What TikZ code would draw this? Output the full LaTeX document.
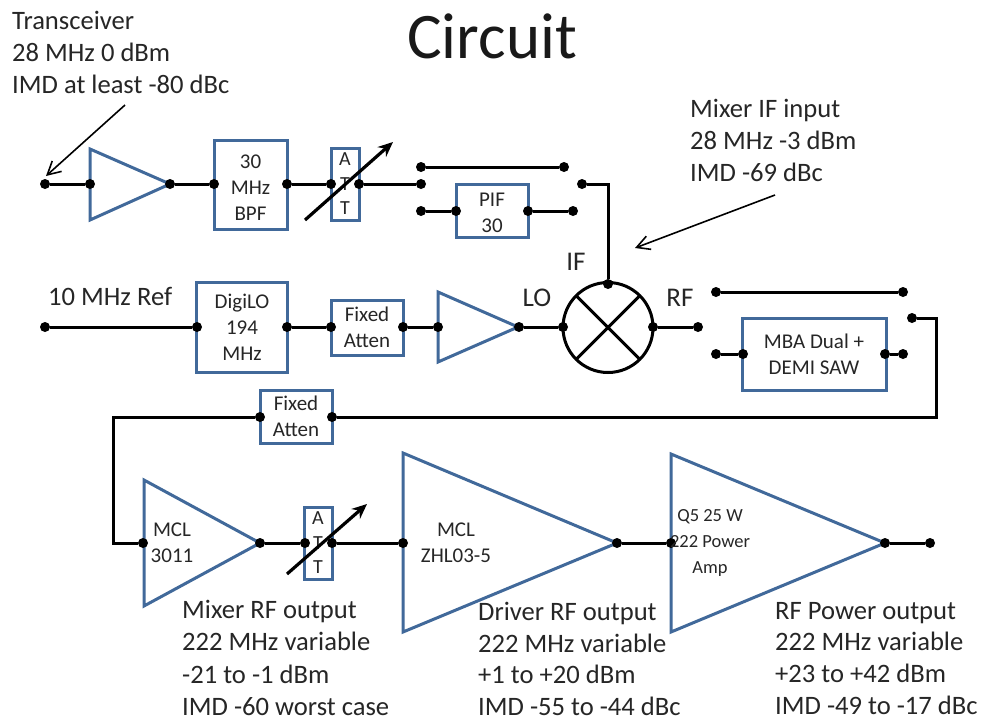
\documentclass[tikz,border=0pt]{standalone}
\usepackage{fontspec}
\setmainfont{Carlito}
\usetikzlibrary{arrows.meta}
\definecolor{blockblue}{HTML}{41699A}
\tikzset{
  x=1pt,y=-1pt,
  wire/.style={line width=3pt,black,line join=miter},
  shell/.style={line width=3pt,draw=blockblue},
  blk/.style={draw=blockblue,line width=3pt,fill=white,inner sep=0pt,outer sep=0pt,align=center,text=black!85,font=\fontsize{21}{26}\selectfont},
  dot/.style={circle,fill=black,inner sep=0pt,outer sep=0pt,minimum size=10pt},
  note/.style={anchor=north west,inner sep=0pt,align=left,text=black!85,font=\fontsize{26.6}{32}\selectfont},
  portlabel/.style={inner sep=0pt,text=black!85,font=\fontsize{27}{30}\selectfont},
  amptext/.style={inner sep=0pt,align=center,text=black!85,font=\fontsize{21}{26}\selectfont},
  tune/.style={line width=3.2pt,black,-{Stealth[length=15pt,width=13pt,inset=5pt]}},
  pointer/.style={line width=1.6pt,black,-{Straight Barb[length=13pt,width=14pt]}},
}
\begin{document}
\begin{tikzpicture}
\useasboundingbox (0,0) rectangle (982,721);

% shapes
\node[blk,minimum width=73pt,minimum height=89pt] (bpf) at (250.5,184.5) {\rule{0pt}{20pt}30\\MHz\\BPF};
\node[blk,minimum width=28pt,minimum height=72pt,font=\fontsize{20}{24.5}\selectfont] (att1) at (345,184) {A\\T\\T};
\node[blk,minimum width=72pt,minimum height=53pt] (pif) at (492,211) {\rule{0pt}{18pt}PIF\\30};
\node[blk,minimum width=91pt,minimum height=90pt] (digilo) at (242,327) {DigiLO\\194\\MHz};
\node[blk,minimum width=72pt,minimum height=55pt] (fa1) at (367,327.5) {Fixed\\Atten};
\node[blk,minimum width=144pt,minimum height=72pt] (mba) at (814,354) {MBA Dual +\\DEMI SAW};
\node[blk,minimum width=72pt,minimum height=53pt] (fa2) at (296,416.5) {Fixed\\Atten};
\node[blk,minimum width=28pt,minimum height=72pt,font=\fontsize{20}{24.5}\selectfont] (att2) at (318,543) {A\\T\\T};
\draw[shell,line join=miter] (90,149) -- (170,184) -- (90,220) -- cycle;
\draw[shell,line join=miter] (438,292) -- (518,327) -- (438,362) -- cycle;
\draw[shell,line join=miter] (144,480) -- (260,543) -- (144,606) -- cycle;
\draw[shell,line join=miter] (403,453) -- (617,543) -- (403,632) -- cycle;
\draw[shell,line join=miter] (671,454) -- (885,543) -- (671,632) -- cycle;

% mixer
\node[circle,draw=black,line width=3pt,minimum size=90pt,inner sep=0pt,outer sep=0pt] (mixer) at (608,327.5) {};
\draw[line width=3pt] (mixer.45) -- (mixer.225) (mixer.135) -- (mixer.-45);

% terminals
\foreach \n/\x/\y in {
  in/45/184, a1i/90/184, a1o/170/184, bi/214/184, bo/287/184, t1i/331/184, t1o/359/184,
  s1a/421/184, s1t/421/167, s1u/564/167, s1l/421/211, pi/456/211, po/528/211, s1r/573/211, s1o/582/184,
  mt/608/284, ref/45/327, di/197/327, do/287/327, f1i/331/327, f1o/403/327, a2i/438/327, a2o/519/327,
  ml/563/327, mr/653/327, rfo/698/327, s2t/716/292, s2u/903/292, s2l/716/354, mi/743/354, mo/885/354,
  s2r/903/354, s2o/912/318, f2o/332/417, f2i/260/417, a3i/143/543, a3o/260/543, t2i/305/543, t2o/332/543,
  a4i/403/543, a4o/617/543, a5i/671/543, a5o/885/543, out/930/543}
  {\node[dot] (\n) at (\x,\y) {};}
\coordinate (c1) at (608,184);
\coordinate (c2) at (936,318);
\coordinate (c3) at (936,417);
\coordinate (c4) at (113,417);
\coordinate (c5) at (113,543);

% connectors
\draw[wire] (in) -- (a1i) (a1o) -- (bi) (bo) -- (t1i) (t1o) -- (s1a);
\draw[wire] (s1t) -- (s1u) (s1l) -- (pi) (po) -- (s1r);
\draw[wire] (s1o) -- (c1) -- (mt);
\draw[wire] (ref) -- (di) (do) -- (f1i) (f1o) -- (a2i) (a2o) -- (ml) (mr) -- (rfo);
\draw[wire] (s2t) -- (s2u) (s2l) -- (mi) (mo) -- (s2r);
\draw[wire] (s2o) -- (c2) -- (c3) -- (f2o);
\draw[wire] (f2i) -- (c4) -- (c5) -- (a3i);
\draw[wire] (a3o) -- (t2i) (t2o) -- (a4i) (a4o) -- (a5i) (a5o) -- (out);

% variable attenuator arrows
\coordinate (v1a) at (305,220); \coordinate (v1b) at (393,142);
\coordinate (v2a) at (287,574); \coordinate (v2b) at (367,504);
\draw[tune] (v1a) -- (v1b);
\draw[tune] (v2a) -- (v2b);

% note pointers
\coordinate (p1a) at (125,105); \coordinate (p1b) at (46,176);
\coordinate (p2a) at (775,195); \coordinate (p2b) at (635,248);
\draw[pointer] (p1a) -- (p1b);
\draw[pointer] (p2a) -- (p2b);

% amplifier labels
\node[amptext] (a3t) at (172,543) {MCL\\3011};
\node[amptext] (a4t) at (456,543) {MCL\\ZHL03-5};
\node[amptext,font=\fontsize{18.5}{26}\selectfont] (a5t) at (710,543) {Q5 25 W\\222 Power\\Amp};

% text
\node[inner sep=0pt,text=black!90,font=\fontsize{65}{70}\selectfont] (title) at (492,36) {Circuit};
\node[note] (n1) at (12,11) {Transceiver\\28 MHz 0 dBm\\IMD at least -80 dBc};
\node[note] (n2) at (690,99) {Mixer IF input\\28 MHz -3 dBm\\IMD -69 dBc};
\node[note,anchor=west] (n3) at (48,296) {10 MHz Ref};
\node[portlabel] (lif) at (576,262) {IF};
\node[portlabel] (llo) at (537,298) {LO};
\node[portlabel] (lrf) at (680,298) {RF};
\node[note,font=\fontsize{26.6}{32.4}\selectfont] (n4) at (182,600) {Mixer RF output\\222 MHz variable\\-21 to -1 dBm\\IMD -60 worst case};
\node[note,font=\fontsize{26.6}{31.7}\selectfont] (n5) at (478,602) {Driver RF output\\222 MHz variable\\+1 to +20 dBm\\IMD -55 to -44 dBc};
\node[note,font=\fontsize{26.6}{31.7}\selectfont] (n6) at (775,602) {RF Power output\\222 MHz variable\\+23 to +42 dBm\\IMD -49 to -17 dBc};
\end{tikzpicture}
\end{document}
